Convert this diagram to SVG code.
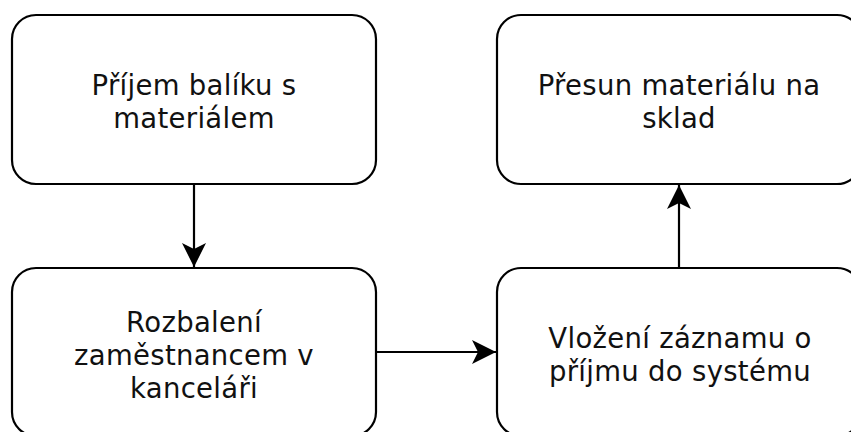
<svg xmlns="http://www.w3.org/2000/svg" width="851" height="432" viewBox="0 0 851 432">
<style>
.box{fill:#fff;stroke:#000;stroke-width:2.2}
.lbl{font-family:"DejaVu Sans",Verdana,sans-serif;font-size:27.5px;letter-spacing:0.3px;fill:#111;text-anchor:middle}
.con{stroke:#000;stroke-width:2.2;fill:none}
</style>
<defs>
<marker id="ah" markerWidth="26" markerHeight="26" refX="24" refY="12" orient="auto" markerUnits="userSpaceOnUse">
<path d="M0,0 L24,12 L0,24 L6,12 Z" fill="#000"/>
</marker>
</defs>
<rect width="851" height="432" fill="#fff"/>
<g id="node1">
<rect class="box" x="12" y="15" width="364" height="169" rx="24" ry="24"/>
<text class="lbl" x="194" y="95">Příjem balíku s</text>
<text class="lbl" x="194" y="128">materiálem</text>
</g>
<g id="node2">
<rect class="box" x="12" y="268" width="364" height="168" rx="24" ry="24"/>
<text class="lbl" x="194" y="332">Rozbalení</text>
<text class="lbl" x="194" y="365">zaměstnancem v</text>
<text class="lbl" x="194" y="398">kanceláři</text>
</g>
<g id="node3">
<rect class="box" x="497" y="15" width="364" height="169" rx="24" ry="24"/>
<text class="lbl" x="679" y="95">Přesun materiálu na</text>
<text class="lbl" x="679" y="128">sklad</text>
</g>
<g id="node4">
<rect class="box" x="497" y="268" width="364" height="168" rx="24" ry="24"/>
<text class="lbl" x="680" y="348">Vložení záznamu o</text>
<text class="lbl" x="680" y="381">příjmu do systému</text>
</g>
<g id="connectors">
<line class="con" x1="194" y1="184" x2="194" y2="267" marker-end="url(#ah)"/>
<line class="con" x1="377" y1="352" x2="496" y2="352" marker-end="url(#ah)"/>
<line class="con" x1="679" y1="268" x2="679" y2="185" marker-end="url(#ah)"/>
</g>
</svg>
